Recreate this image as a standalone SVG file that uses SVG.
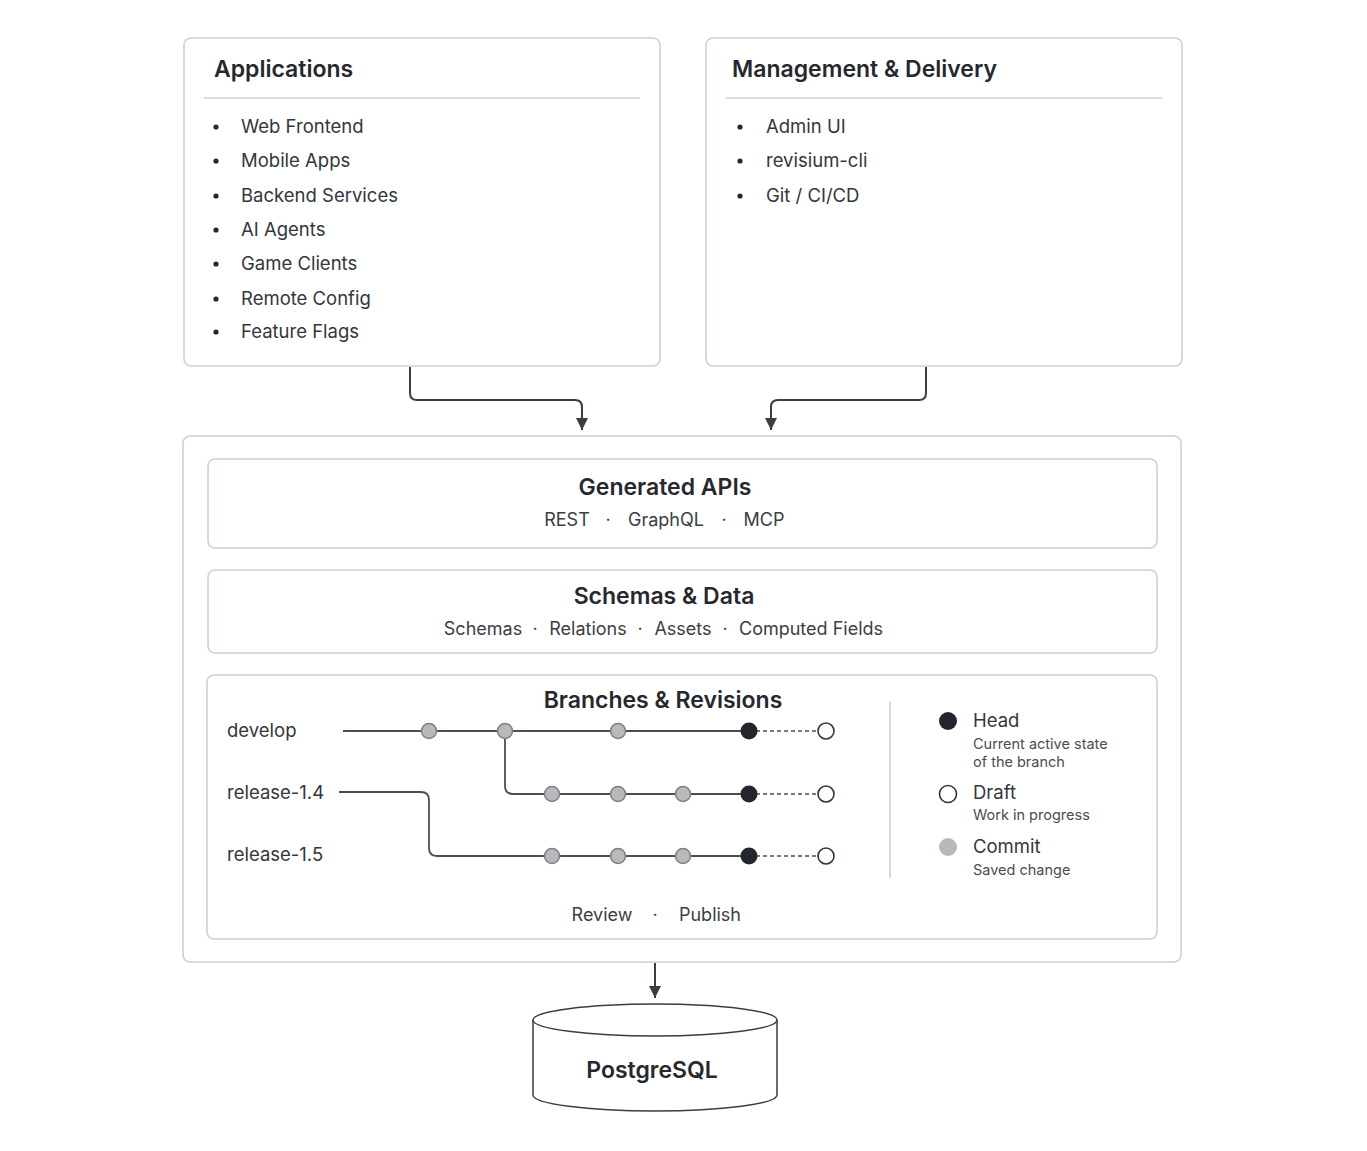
<svg xmlns="http://www.w3.org/2000/svg" width="1367" height="1151" viewBox="0 0 1367 1151">
<defs>
<style>
text{font-family:Inter,"Noto Sans","Liberation Sans",sans-serif;fill:#26282e}
.box{fill:#fff;stroke:#cfd0d3;stroke-width:1.6}
.title{font-size:23px;font-weight:600}
.item{font-size:18.5px;fill:#33363c}
.sub{font-size:18px;fill:#3b3e44;text-anchor:middle}
.small{font-size:14.5px;fill:#4a4d53}
.conn{fill:none;stroke:#3a3d44;stroke-width:2}
.br{fill:none;stroke:#4a4d53;stroke-width:1.8}
.dash{fill:none;stroke:#4a4d53;stroke-width:1.5;stroke-dasharray:4 3}
.commit{fill:#b8b9bb;stroke:#7d7f84;stroke-width:1.5}
.head{fill:#23262d}
.draft{fill:#fff;stroke:#33363c;stroke-width:1.6}
.mid{text-anchor:middle}
</style>
<marker id="arr" viewBox="0 0 10 10" refX="10" refY="5" markerWidth="6" markerHeight="6" orient="auto"><path d="M0,0L10,5L0,10z" fill="#3a3d44"/></marker>
</defs>
<rect width="1367" height="1151" fill="#fff"/>

<g id="applications">
<rect class="box" x="184" y="38" width="476" height="328" rx="7"/>
<text class="title" x="214" y="77">Applications</text>
<line x1="204" y1="98" x2="640" y2="98" stroke="#cfd0d3" stroke-width="1.6"/>
<g fill="#26282e"><circle cx="216" cy="127" r="2.6"/><circle cx="216" cy="161" r="2.6"/><circle cx="216" cy="196" r="2.6"/><circle cx="216" cy="230" r="2.6"/><circle cx="216" cy="264" r="2.6"/><circle cx="216" cy="299" r="2.6"/><circle cx="216" cy="332" r="2.6"/></g>
<text class="item" x="241" y="133">Web Frontend</text>
<text class="item" x="241" y="167">Mobile Apps</text>
<text class="item" x="241" y="202">Backend Services</text>
<text class="item" x="241" y="236">AI Agents</text>
<text class="item" x="241" y="270">Game Clients</text>
<text class="item" x="241" y="305">Remote Config</text>
<text class="item" x="241" y="338">Feature Flags</text>
</g>

<g id="management">
<rect class="box" x="706" y="38" width="476" height="328" rx="7"/>
<text class="title" x="732" y="77">Management &amp; Delivery</text>
<line x1="726" y1="98" x2="1162" y2="98" stroke="#cfd0d3" stroke-width="1.6"/>
<g fill="#26282e"><circle cx="740" cy="127" r="2.6"/><circle cx="740" cy="161" r="2.6"/><circle cx="740" cy="196" r="2.6"/></g>
<text class="item" x="766" y="133">Admin UI</text>
<text class="item" x="766" y="167">revisium-cli</text>
<text class="item" x="766" y="202">Git / CI/CD</text>
</g>

<g id="platform">
<rect class="box" x="183" y="436" width="998" height="526" rx="7"/>
</g>

<g id="generated-apis">
<rect class="box" x="208" y="459" width="949" height="89" rx="7"/>
<text class="title mid" x="665" y="495">Generated APIs</text>
<text class="sub" x="567" y="526">REST</text>
<text class="sub" x="608" y="526">·</text>
<text class="sub" x="666" y="526">GraphQL</text>
<text class="sub" x="724" y="526">·</text>
<text class="sub" x="764" y="526">MCP</text>
</g>

<g id="schemas-data">
<rect class="box" x="208" y="570" width="949" height="83" rx="7"/>
<text class="title mid" x="664" y="604">Schemas &amp; Data</text>
<text class="sub" x="483" y="635">Schemas</text>
<text class="sub" x="535" y="635">·</text>
<text class="sub" x="588" y="635">Relations</text>
<text class="sub" x="640" y="635">·</text>
<text class="sub" x="683" y="635">Assets</text>
<text class="sub" x="725" y="635">·</text>
<text class="sub" x="811" y="635">Computed Fields</text>
</g>

<g id="branches-revisions">
<rect class="box" x="207" y="675" width="950" height="264" rx="7"/>
<text class="title mid" x="663" y="708">Branches &amp; Revisions</text>
<text class="item" x="227" y="737">develop</text>
<text class="item" x="227" y="799">release-1.4</text>
<text class="item" x="227" y="861">release-1.5</text>
<path class="br" d="M343,731H749"/>
<path class="br" d="M505,731V786Q505,794 513,794H749"/>
<path class="br" d="M339,792H421Q429,792 429,800V848Q429,856 437,856H749"/>
<path class="dash" d="M749,731H826M749,794H826M749,856H826"/>
<circle class="commit" cx="429" cy="731" r="7.5"/>
<circle class="commit" cx="505" cy="731" r="7.5"/>
<circle class="commit" cx="618" cy="731" r="7.5"/>
<circle class="head" cx="749" cy="731" r="8.5"/>
<circle class="draft" cx="826" cy="731" r="8"/>
<circle class="commit" cx="552" cy="794" r="7.5"/>
<circle class="commit" cx="618" cy="794" r="7.5"/>
<circle class="commit" cx="683" cy="794" r="7.5"/>
<circle class="head" cx="749" cy="794" r="8.5"/>
<circle class="draft" cx="826" cy="794" r="8"/>
<circle class="commit" cx="552" cy="856" r="7.5"/>
<circle class="commit" cx="618" cy="856" r="7.5"/>
<circle class="commit" cx="683" cy="856" r="7.5"/>
<circle class="head" cx="749" cy="856" r="8.5"/>
<circle class="draft" cx="826" cy="856" r="8"/>
<line x1="890" y1="702" x2="890" y2="878" stroke="#cfd0d3" stroke-width="1.6"/>
<circle class="head" cx="948" cy="721" r="9"/>
<text class="item" x="973" y="727">Head</text>
<text class="small" x="973" y="749">Current active state</text>
<text class="small" x="973" y="767">of the branch</text>
<circle class="draft" cx="948" cy="794" r="8.5"/>
<text class="item" x="973" y="799">Draft</text>
<text class="small" x="973" y="820">Work in progress</text>
<circle fill="#b8b9bb" cx="948" cy="847" r="9"/>
<text class="item" x="973" y="853">Commit</text>
<text class="small" x="973" y="875">Saved change</text>
<text class="sub" x="602" y="921">Review</text>
<text class="sub" x="655" y="921">·</text>
<text class="sub" x="710" y="921">Publish</text>
</g>

<g id="postgresql">
<path d="M533,1020V1095A122,16 0 0 0 777,1095V1020" fill="#fff" stroke="#3a3d44" stroke-width="1.5"/>
<ellipse cx="655" cy="1020" rx="122" ry="16" fill="#fff" stroke="#3a3d44" stroke-width="1.5"/>
<text class="title mid" x="652" y="1078">PostgreSQL</text>
</g>

<g id="connectors">
<path class="conn" d="M410,367V393Q410,400 417,400H575Q582,400 582,407V430" marker-end="url(#arr)"/>
<path class="conn" d="M926,367V393Q926,400 919,400H778Q771,400 771,407V430" marker-end="url(#arr)"/>
<path class="conn" d="M655,963V998" marker-end="url(#arr)"/>
</g>
</svg>
